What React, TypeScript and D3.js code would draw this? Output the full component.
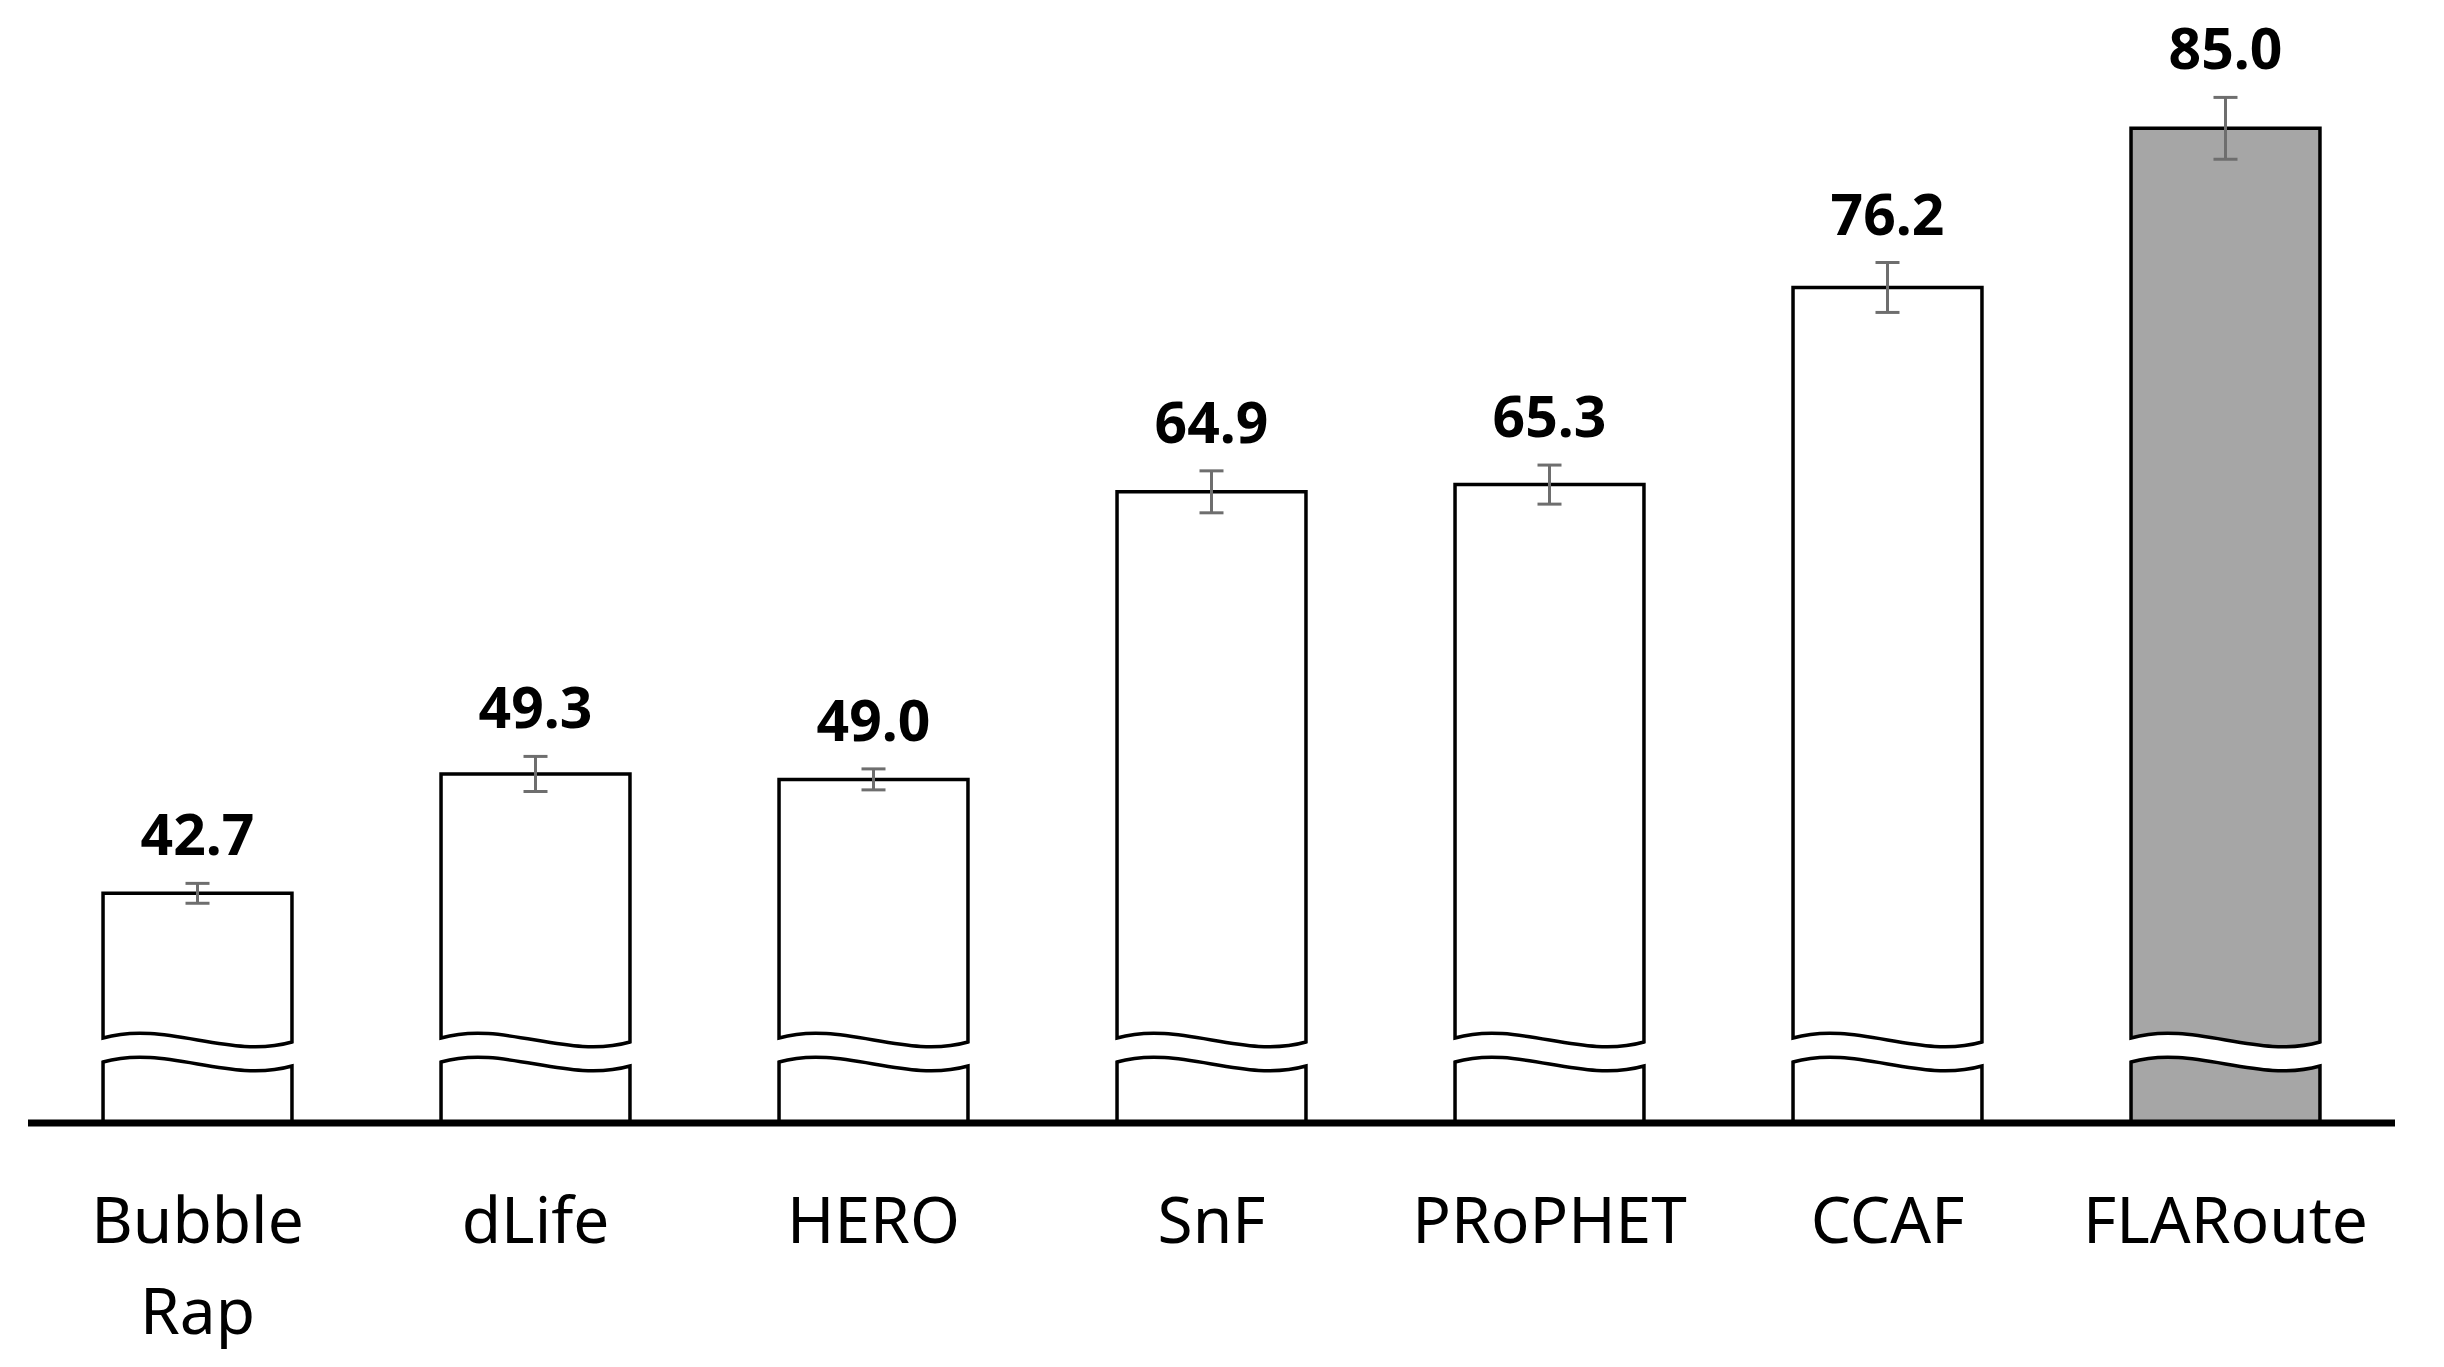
import React from 'react';
import * as d3 from 'd3';

const methods = ['Bubble Rap', 'dLife', 'HERO', 'SnF', 'PRoPHET', 'CCAF', 'FLARoute'];
const values = [42.7, 49.3, 49.0, 64.9, 65.3, 76.2, 85.0];
const errors = [0.55, 0.97, 0.58, 1.16, 1.08, 1.38, 1.71];
const highlighted = ['FLARoute'];

const width = 2444;
const height = 1367;
const axisY = 1123;

// broken bar: the upper piece ends at breakHi, lower piece starts at breakLo (px above axis)
const breakHi = 84;
const breakLo = 60;

const wavePath = (ctx: d3.Path, x0: number, w: number, yb: number, reverse: boolean) => {
  if (reverse) {
    ctx.bezierCurveTo(x0 + (2 * w) / 3, yb + 21, x0 + w / 3, yb - 19, x0, yb - 1);
  } else {
    ctx.bezierCurveTo(x0 + w / 3, yb - 19, x0 + (2 * w) / 3, yb + 21, x0 + w, yb + 3);
  }
};

const App: React.FC = () => {
  const x = d3.scaleBand<string>()
    .domain(methods)
    .range([28, 2395])
    .paddingInner(0.441)
    .paddingOuter(0.222);

  const y = d3.scaleLinear()
    .domain([30, 85])
    .range([axisY, axisY - 55 * 18.085]);

  const bw = x.bandwidth();

  return (
    <svg
      width={width}
      height={height}
      style={{ position: 'absolute', left: 0, top: 0, background: '#fff' }}
    >
      {methods.map((m, i) => {
        const x0 = x(m)!;
        const cx = x0 + bw / 2;
        const top = y(values[i]);
        const fill = highlighted.includes(m) ? '#a6a6a6' : '#ffffff';

        const upper = d3.path();
        upper.moveTo(x0, top);
        upper.lineTo(x0 + bw, top);
        upper.lineTo(x0 + bw, axisY - breakHi + 3);
        wavePath(upper, x0, bw, axisY - breakHi, true);
        upper.closePath();

        const lower = d3.path();
        lower.moveTo(x0, axisY - breakLo - 1);
        wavePath(lower, x0, bw, axisY - breakLo, false);
        lower.lineTo(x0 + bw, axisY);
        lower.lineTo(x0, axisY);
        lower.closePath();

        const eTop = y(values[i] + errors[i]);
        const eBot = y(values[i] - errors[i]);

        return (
          <g key={m}>
            <path d={upper.toString()} fill={fill} stroke="#000" strokeWidth={3.5} strokeLinejoin="miter" />
            <path d={lower.toString()} fill={fill} stroke="#000" strokeWidth={3.5} strokeLinejoin="miter" />
            <g stroke="#6e6e6e" strokeWidth={3}>
              <line x1={cx} x2={cx} y1={eTop} y2={eBot} />
              <line x1={cx - 12} x2={cx + 12} y1={eTop} y2={eTop} />
              <line x1={cx - 12} x2={cx + 12} y1={eBot} y2={eBot} />
            </g>
            <text
              x={cx}
              y={eTop - 28}
              textAnchor="middle"
              fontFamily="'Noto Sans', sans-serif"
              fontWeight="bold"
              fontSize={57}
              fill="#000"
            >
              {values[i].toFixed(1)}
            </text>
            <text
              x={cx}
              y={1243}
              textAnchor="middle"
              fontFamily="'Noto Sans', sans-serif"
              fontSize={64}
              fill="#000"
            >
              {m.split(' ').map((part, j) => (
                <tspan key={j} x={cx} dy={j === 0 ? 0 : 91}>
                  {part}
                </tspan>
              ))}
            </text>
          </g>
        );
      })}
      <line x1={28} x2={2395} y1={axisY} y2={axisY} stroke="#000" strokeWidth={7} />
    </svg>
  );
};

export default App;
